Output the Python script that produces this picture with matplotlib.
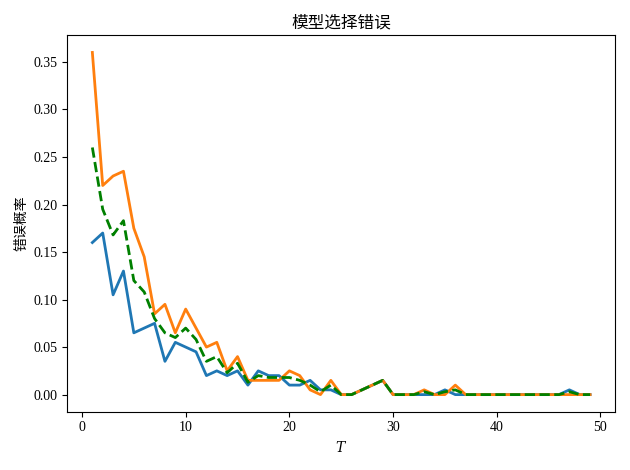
import matplotlib
matplotlib.use('Agg')
import matplotlib.pyplot as plt

plt.rcParams['font.family'] = ['Liberation Serif', 'Noto Sans CJK SC']
plt.rcParams['mathtext.fontset'] = 'dejavuserif'

T = list(range(1, 50))
blue = [0.16, 0.17, 0.105, 0.13, 0.065, 0.07, 0.075, 0.035, 0.055, 0.05,
        0.045, 0.02, 0.025, 0.02, 0.025, 0.01, 0.025, 0.02, 0.02, 0.01,
        0.01, 0.015, 0.005, 0.005, 0.0, 0.0, 0.005, 0.01, 0.015, 0.0,
        0.0, 0.0, 0.0, 0.0, 0.005, 0.0, 0.0, 0.0, 0.0, 0.0,
        0.0, 0.0, 0.0, 0.0, 0.0, 0.0, 0.005, 0.0, 0.0]
orange = [0.36, 0.22, 0.23, 0.235, 0.175, 0.145, 0.085, 0.095, 0.065, 0.09,
          0.07, 0.05, 0.055, 0.025, 0.04, 0.015, 0.015, 0.015, 0.015, 0.025,
          0.02, 0.005, 0.0, 0.015, 0.0, 0.0, 0.005, 0.01, 0.015, 0.0,
          0.0, 0.0, 0.005, 0.0, 0.0, 0.01, 0.0, 0.0, 0.0, 0.0,
          0.0, 0.0, 0.0, 0.0, 0.0, 0.0, 0.0, 0.0, 0.0]
green = [0.26, 0.195, 0.168, 0.183, 0.12, 0.108, 0.08, 0.065, 0.06, 0.07,
         0.058, 0.035, 0.04, 0.023, 0.033, 0.013, 0.02, 0.018, 0.018, 0.018,
         0.015, 0.01, 0.003, 0.01, 0.0, 0.0, 0.005, 0.01, 0.015, 0.0,
         0.0, 0.0, 0.003, 0.0, 0.003, 0.005, 0.0, 0.0, 0.0, 0.0,
         0.0, 0.0, 0.0, 0.0, 0.0, 0.0, 0.003, 0.0, 0.0]

fig, ax = plt.subplots(figsize=(6.3, 4.7), dpi=100)
ax.plot(T, blue, color='#1f77b4', lw=2)
ax.plot(T, orange, color='#ff7f0e', lw=2)
ax.plot(T, green, color='green', lw=2, ls='--')
ax.set_title('模型选择错误')
ax.set_xlabel('$T$')
ax.set_ylabel('错误概率')
fig.tight_layout()
fig.savefig('out.png')
